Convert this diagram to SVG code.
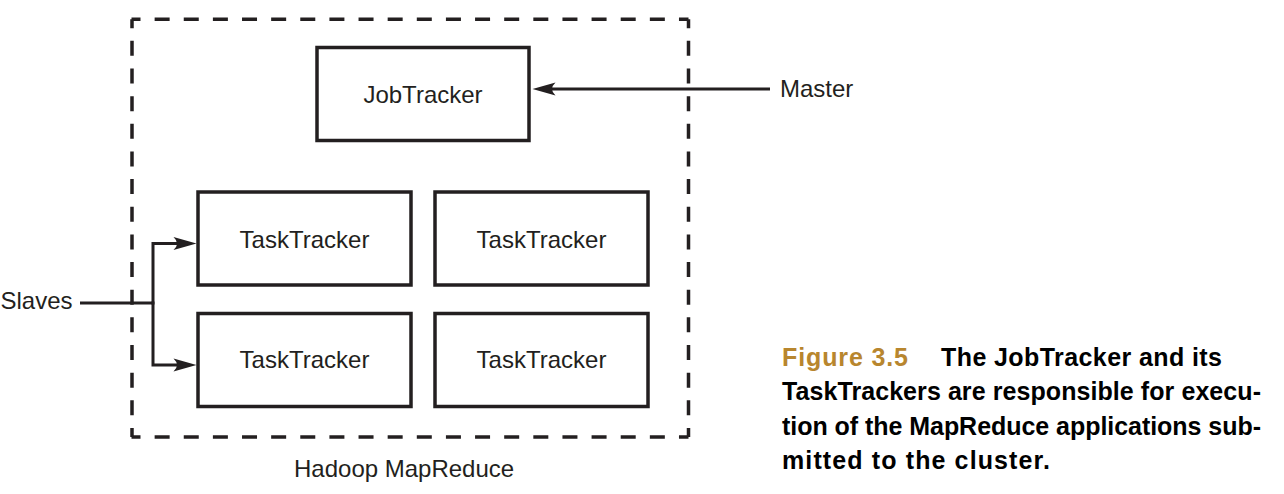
<svg xmlns="http://www.w3.org/2000/svg" width="1284" height="494" viewBox="0 0 1284 494">
  <style>
    .box { fill: #ffffff; stroke: #231f20; stroke-width: 3.5; }
    .lbl { font-family: "Liberation Sans", Arial, sans-serif; font-size: 24px; fill: #231f20; }
    .mid { text-anchor: middle; }
    .dash { fill: none; stroke: #231f20; stroke-width: 3.5; stroke-dashoffset: 6; }
    .conn { fill: none; stroke: #231f20; stroke-width: 3; stroke-linejoin: miter; }
    .cap { font-family: "Liberation Sans", Arial, sans-serif; font-size: 25px; font-weight: bold; fill: #000000; }
    .fig { fill: #b8862e; }
  </style>
  <defs>
    <marker id="arrow" markerUnits="userSpaceOnUse" viewBox="-25 -8 26 16" markerWidth="26" markerHeight="16" refX="-12" refY="0" orient="auto">
      <path d="M0,0 L-23,-6.5 Q-16,0 -23,6.5 Z" fill="#231f20"/>
    </marker>
  </defs>

  <g id="cluster">
    <line class="dash" x1="131.5" y1="19.2" x2="688.5" y2="19.2" stroke-dasharray="15 14.13"/>
    <line class="dash" x1="131.5" y1="437" x2="688.5" y2="437" stroke-dasharray="15 14.13"/>
    <line class="dash" x1="132" y1="19.2" x2="132" y2="437" stroke-dasharray="15 12.65"/>
    <line class="dash" x1="688.5" y1="19.2" x2="688.5" y2="437" stroke-dasharray="15 12.65"/>
    <text class="lbl" x="294" y="477">Hadoop MapReduce</text>
  </g>

  <g id="jobtracker">
    <rect class="box" x="317" y="47.5" width="212" height="93"/>
    <text class="lbl mid" x="423" y="103">JobTracker</text>
  </g>

  <g id="tasktracker1">
    <rect class="box" x="198" y="192" width="213" height="93"/>
    <text class="lbl mid" x="304.5" y="248">TaskTracker</text>
  </g>
  <g id="tasktracker2">
    <rect class="box" x="435" y="192" width="213" height="93"/>
    <text class="lbl mid" x="541.5" y="248">TaskTracker</text>
  </g>
  <g id="tasktracker3">
    <rect class="box" x="198" y="313.5" width="213" height="93"/>
    <text class="lbl mid" x="304.5" y="368">TaskTracker</text>
  </g>
  <g id="tasktracker4">
    <rect class="box" x="435" y="313.5" width="213" height="93"/>
    <text class="lbl mid" x="541.5" y="368">TaskTracker</text>
  </g>

  <g id="master">
    <text class="lbl" x="780" y="97">Master</text>
  </g>
  <g id="slaves">
    <text class="lbl" x="0.5" y="309">Slaves</text>
  </g>

  <g id="connectors">
    <path class="conn" d="M770,89 H544.5" marker-end="url(#arrow)"/>
    <path class="conn" d="M80,303 H153"/>
    <path class="conn" d="M153,304.5 V243.5 H184.5" marker-end="url(#arrow)"/>
    <path class="conn" d="M153,301.5 V365 H184.5" marker-end="url(#arrow)"/>
  </g>

  <g id="caption">
    <text class="cap fig" x="782" y="365.5" textLength="126" lengthAdjust="spacing">Figure 3.5</text>
    <text class="cap" x="941" y="365.5" textLength="281" lengthAdjust="spacing">The JobTracker and its</text>
    <text class="cap" x="782" y="400" textLength="479" lengthAdjust="spacing">TaskTrackers are responsible for execu-</text>
    <text class="cap" x="782" y="434.5" textLength="479" lengthAdjust="spacing">tion of the MapReduce applications sub-</text>
    <text class="cap" x="782" y="469" textLength="268" lengthAdjust="spacing">mitted to the cluster.</text>
  </g>
</svg>
